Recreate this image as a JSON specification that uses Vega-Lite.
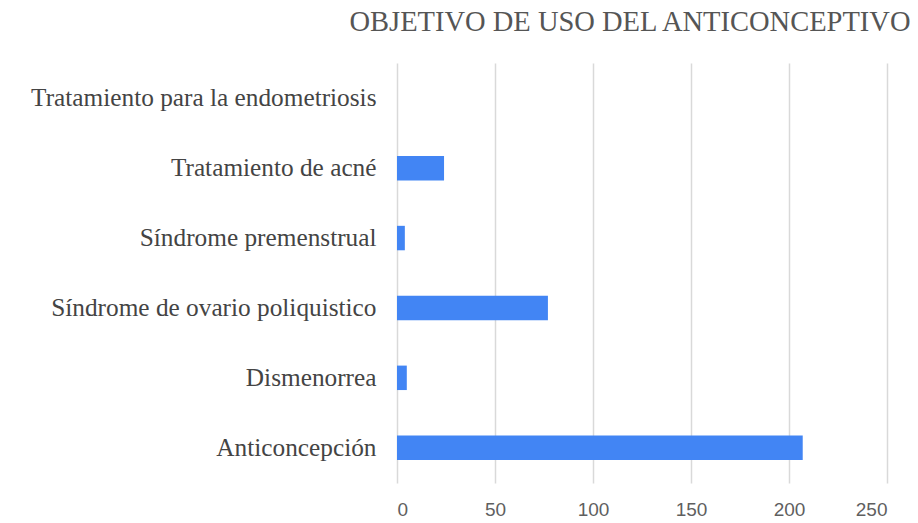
{
  "$schema": "https://vega.github.io/schema/vega-lite/v6.json",
  "width": 490,
  "height": 420,
  "autosize": {"type": "none"},
  "padding": {"left": 397, "top": 63, "right": 31, "bottom": 40},
  "background": "white",
  "title": {
    "text": "OBJETIVO DE USO DEL ANTICONCEPTIVO",
    "font": "Liberation Serif",
    "fontSize": 28.5,
    "fontWeight": "normal",
    "color": "#555555",
    "anchor": "middle",
    "dx": -12,
    "offset": 27
  },
  "data": {
    "values": [
      {"objetivo": "Tratamiento para la endometriosis", "n": 0},
      {"objetivo": "Tratamiento de acné", "n": 24},
      {"objetivo": "Síndrome premenstrual", "n": 4},
      {"objetivo": "Síndrome de ovario poliquistico", "n": 77},
      {"objetivo": "Dismenorrea", "n": 5},
      {"objetivo": "Anticoncepción", "n": 207}
    ]
  },
  "mark": {"type": "bar", "color": "#4285F4"},
  "encoding": {
    "y": {
      "field": "objetivo",
      "type": "nominal",
      "sort": null,
      "scale": {"paddingInner": 0.65, "paddingOuter": 0.33},
      "axis": {
        "title": null,
        "domain": false,
        "ticks": false,
        "grid": false,
        "labelPadding": 21,
        "labelFont": "Liberation Serif",
        "labelFontSize": 25.3,
        "labelColor": "#444444",
        "labelLimit": 500
      }
    },
    "x": {
      "field": "n",
      "type": "quantitative",
      "scale": {"domain": [0, 250], "nice": false},
      "axis": {
        "title": null,
        "values": [0, 50, 100, 150, 200, 250],
        "domain": false,
        "ticks": false,
        "labelPadding": 17,
        "labelFont": "Liberation Sans",
        "labelFontSize": 19,
        "labelColor": "#5f5f5f",
        "gridColor": "#d9d9d9",
        "gridWidth": 1.5
      }
    }
  },
  "config": {"view": {"stroke": null}}
}
